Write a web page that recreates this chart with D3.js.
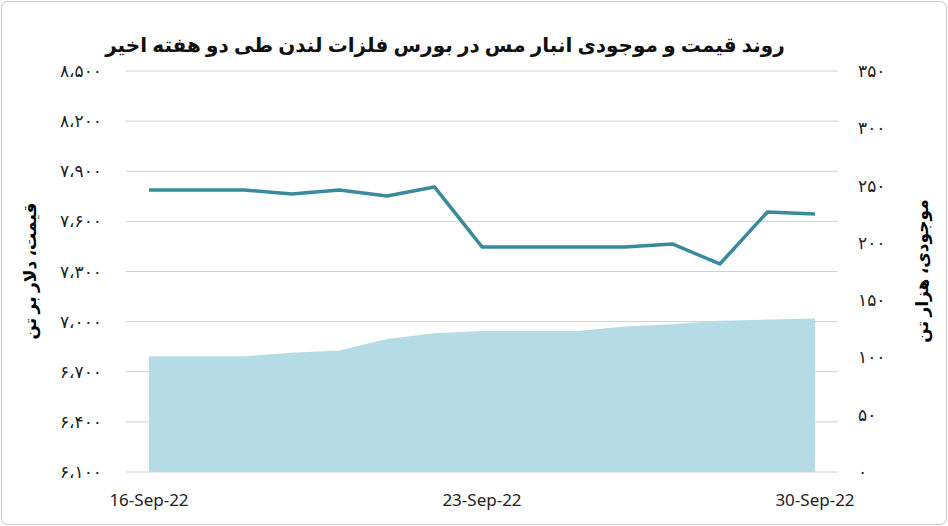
<!DOCTYPE html><html><head><meta charset="utf-8"><script src="https://cdn.jsdelivr.net/npm/d3@7"></script>
<style>body{margin:0;background:#fff}</style></head><body><svg id="c" width="948" height="526"></svg><script>
const dates=["2022-09-16","2022-09-17","2022-09-18","2022-09-19","2022-09-20","2022-09-21","2022-09-22","2022-09-23","2022-09-24","2022-09-25","2022-09-26","2022-09-27","2022-09-28","2022-09-29","2022-09-30"];
const price=[7788,7788,7788,7764,7788,7752,7806,7447,7447,7447,7447,7465,7345,7656,7644];
const stock=[101,101,101,104,106,116,121,123,123,123,127,129,132,133,134];
const leftTicks=[6100,6400,6700,7000,7300,7600,7900,8200,8500];
const rightTicks=[0,50,100,150,200,250,300,350];
const xLabels=["2022-09-16","2022-09-23","2022-09-30"];
const fa=n=>String(n).replace(/\d/g,d=>"۰۱۲۳۴۵۶۷۸۹"[d]);
const faC=n=>fa(d3.format(",")(n)).replace(/,/g,"،");
const svg=d3.select("#c");
svg.append("rect").attr("x",1.5).attr("y",1.5).attr("width",945).attr("height",523).attr("rx",6).attr("fill","#fff").attr("stroke","#c8c8c8");
const p=d3.timeParse("%Y-%m-%d");
const x=d3.scaleTime().domain([p(dates[0]),p(dates[14])]).range([149,815]);
const yl=d3.scaleLinear().domain([6100,8500]).range([472,71]);
const yr=d3.scaleLinear().domain([0,350]).range([472,71]);
svg.append("g").selectAll("line").data(leftTicks).join("line").attr("x1",126).attr("x2",838).attr("y1",d=>yl(d)).attr("y2",d=>yl(d)).attr("stroke","#d0d0d0");
svg.append("path").datum(stock).attr("fill","#b5dce6").attr("d",d3.area().x((d,i)=>x(p(dates[i]))).y0(yr(0)).y1(d=>yr(d)));
svg.append("path").datum(price).attr("fill","none").attr("stroke","#3a8a9e").attr("stroke-width",3.5).attr("stroke-linejoin","round").attr("d",d3.line().x((d,i)=>x(p(dates[i]))).y(d=>yl(d)));
const f="'Noto Sans','DejaVu Sans',sans-serif";
svg.append("g").selectAll("text").data(leftTicks).join("text").attr("x",102).attr("y",d=>yl(d)+6).attr("text-anchor","end").attr("font-family",f).attr("font-size",17).attr("fill","#222").text(faC);
svg.append("g").selectAll("text").data(rightTicks).join("text").attr("x",858).attr("y",d=>yr(d)+6).attr("text-anchor","start").attr("font-family",f).attr("font-size",17).attr("fill","#222").text(fa);
const fmt=d3.timeFormat("%d-%b-%y");
svg.append("g").selectAll("text").data(xLabels).join("text").attr("x",d=>x(p(d))).attr("y",506).attr("text-anchor","middle").attr("font-family",f).attr("font-size",17).attr("fill","#222").text(d=>fmt(p(d)));
svg.append("text").attr("x",445).attr("y",52).attr("text-anchor","middle").attr("direction","rtl").attr("font-family",f).attr("font-weight","bold").attr("font-size",20).attr("fill","#111").text("روند قیمت و موجودی انبار مس در بورس فلزات لندن طی دو هفته اخیر");
svg.append("text").attr("transform","translate(36,271) rotate(-90)").attr("text-anchor","middle").attr("direction","rtl").attr("font-family",f).attr("font-weight","bold").attr("font-size",17).text("قیمت، دلار بر تن");
svg.append("text").attr("transform","translate(928,271) rotate(-90)").attr("text-anchor","middle").attr("direction","rtl").attr("font-family",f).attr("font-weight","bold").attr("font-size",17).text("موجودی، هزار تن");
</script></body></html>
